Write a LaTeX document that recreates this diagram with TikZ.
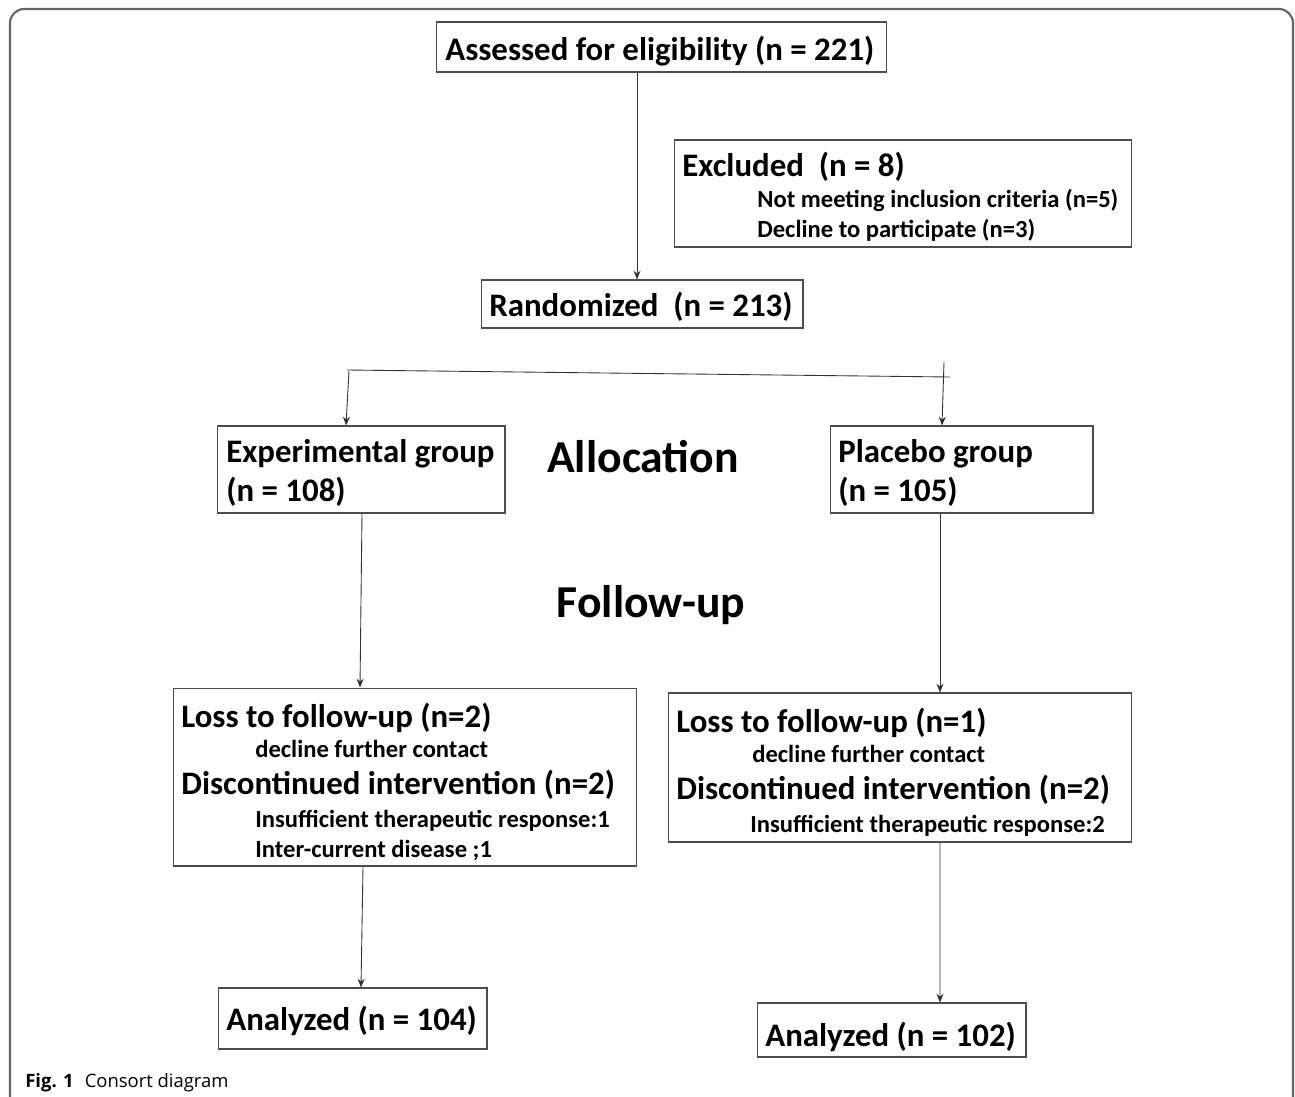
\documentclass[tikz,border=0pt]{standalone}
\usepackage{fontspec}
\setmainfont{Carlito}
\newfontfamily\capfont{Open Sans}
\usetikzlibrary{arrows.meta,calc}
\begin{document}
\begin{tikzpicture}[x=0.02cm,y=-0.02cm,
 box/.style={draw=black!70,line width=0.6pt,inner sep=0pt,rectangle},
 big/.style={anchor=base west,inner sep=0pt,font=\fontsize{18.7}{22}\selectfont\bfseries},
 sub/.style={anchor=base west,inner sep=0pt,font=\fontsize{14}{17}\selectfont\bfseries},
 head/.style={anchor=base,inner sep=0pt,font=\fontsize{26}{30}\selectfont\bfseries},
 arr/.style={draw=black!80,line width=0.5pt,-{Stealth[length=5pt,width=4pt]}},
 ln/.style={draw=black!80,line width=0.5pt}]
\useasboundingbox (0,0) rectangle (1295,1096);
\draw[black!60,line width=1.2pt,rounded corners=8pt] (10,1120) -- (10,9) -- (1293,9) -- (1293,1120);

% boxes
\node[box,minimum width=9.02cm,minimum height=1cm] (assess) at (661.5,47) {};
\node[box,minimum width=9.16cm,minimum height=2.14cm] (excl) at (903,193.5) {};
\node[box,minimum width=6.44cm,minimum height=0.96cm] (rand) at (642,304) {};
\node[box,minimum width=5.76cm,minimum height=1.74cm] (exp) at (361,469.5) {};
\node[box,minimum width=5.26cm,minimum height=1.74cm] (plac) at (961.5,469.5) {};
\node[box,minimum width=9.28cm,minimum height=3.56cm] (lossL) at (405,777) {};
\node[box,minimum width=9.28cm,minimum height=2.98cm] (lossR) at (900,767.5) {};
\node[box,minimum width=5.38cm,minimum height=1.22cm] (anaL) at (352.5,1018.5) {};
\node[box,minimum width=5.38cm,minimum height=1.08cm] (anaR) at (891.5,1030) {};

% texts
\node[big] (t1) at (445,60) {Assessed for eligibility (n = 221)};
\node[big] (t2) at (682,176) {Excluded\ \ (n = 8)};
\node[sub] (t3) at (757,207) {Not meeting inclusion criteria (n=5)};
\node[sub] (t4) at (757,237) {Decline to participate (n=3)};
\node[big] (t5) at (489,316) {Randomized\ \ (n = 213)};
\node[big] (t6) at (226,462) {Experimental group};
\node[big] (t7) at (226,501) {(n = 108)};
\node[big] (t8) at (838,462) {Placebo group};
\node[big] (t9) at (838,501) {(n = 105)};
\node[head] (h1) at (643,472) {Allocation};
\node[head] (h2) at (651,617) {Follow-up};
\node[big] (t10) at (181,727) {Loss to follow-up (n=2)};
\node[sub] (t11) at (255,757) {decline further contact};
\node[big] (t12) at (181,794) {Discontinued intervention (n=2)};
\node[sub] (t13) at (255,827) {Insufficient therapeutic response:1};
\node[sub] (t14) at (255,857) {Inter-current disease ;1};
\node[big] (t15) at (676,732) {Loss to follow-up (n=1)};
\node[sub] (t16) at (752,762) {decline further contact};
\node[big] (t17) at (676,799) {Discontinued intervention (n=2)};
\node[sub] (t18) at (750,832) {Insufficient therapeutic response:2};
\node[big] (t19) at (226,1030) {Analyzed (n = 104)};
\node[big] (t20) at (765,1046) {Analyzed (n = 102)};
\node[anchor=base west,inner sep=0pt,font=\capfont\fontsize{10.5}{12}\selectfont] (cap) at (25,1087) {\textbf{Fig. 1}\hspace{0.6em}Consort diagram};

% connectors
\draw[arr] ($(assess.south)+(-24.5,0)$) -- ($(rand.north)+(-5,0)$);
\coordinate (sl) at (347,370);
\coordinate (sr) at (950,377);
\draw[ln] (sl) -- (sr);
\coordinate (sl2) at (349,371);
\coordinate (sr2) at (944,362);
\draw[arr] (sl2) -- ($(exp.north)+(-15,0)$);
\draw[arr] (sr2) -- ($(plac.north)+(-19.5,0)$);
\draw[arr] ($(exp.south)+(1,0)$) -- ($(lossL.north)+(-45,0)$);
\draw[arr] ($(plac.south)+(-21.5,0)$) -- ($(lossR.north)+(40,0)$);
\draw[arr] ($(lossL.south)+(-42,0)$) -- ($(anaL.north)+(8.5,0)$);
\draw[arr] ($(lossR.south)+(40,0)$) -- ($(anaR.north)+(48.5,0)$);
\end{tikzpicture}
\end{document}
